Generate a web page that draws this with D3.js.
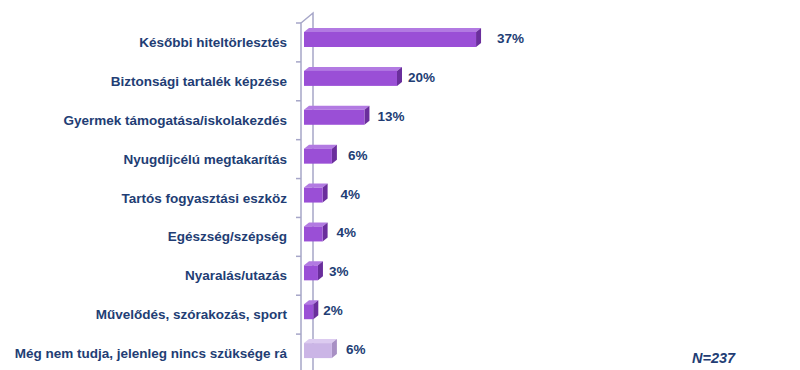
<!DOCTYPE html>
<html>
<head>
<meta charset="utf-8">
<script src="https://cdn.jsdelivr.net/npm/d3@7"></script>
<style>
body { margin: 0; background: #fff; }
text { font-family: "Liberation Sans", Arial, sans-serif; }
</style>
</head>
<body>
<script>
// data
var categories = ["Későbbi hiteltörlesztés", "Biztonsági tartalék képzése", "Gyermek támogatása/iskolakezdés",
  "Nyugdíjcélú megtakarítás", "Tartós fogyasztási eszköz", "Egészség/szépség",
  "Nyaralás/utazás", "Művelődés, szórakozás, sport", "Még nem tudja, jelenleg nincs szüksége rá"];
var values = [37, 20, 13, 6, 4, 4, 3, 2, 6];
var labels = ["37%", "20%", "13%", "6%", "4%", "4%", "3%", "2%", "6%"];
var labelGap = [16, 6, 8, 11, 13, 9, 6, 5, 9];

var width = 800, height = 370;
var textColor = "#223d74";
var dx = 5, dy = 4;

var svg = d3.select("body").append("svg")
  .attr("width", width)
  .attr("height", height);

var y = d3.scaleBand().domain(categories).range([23, 373]).padding(0);
var x = d3.scaleLinear().domain([0, 100]).range([304, 769]);

// back wall + front axis
var axisG = svg.append("g").attr("stroke", "#a6a6c8").attr("stroke-width", 1.5).attr("fill", "none");
axisG.append("path").attr("d", "M301,370 L301,23 L313,13 L313,370");
axisG.selectAll("line.tick").data(d3.range(categories.length + 1))
  .enter().append("line")
  .attr("x1", 296).attr("x2", 301)
  .attr("y1", function(d) { return 23 + d * y.step(); })
  .attr("y2", function(d) { return 23 + d * y.step(); });

var bars = svg.append("g").selectAll("g").data(values).enter().append("g");
function frontCol(i) { return i === values.length - 1 ? "#cbb5e6" : "#9a4fd6"; }
function topCol(i) { return i === values.length - 1 ? "#dccbf0" : "#b27ae2"; }
function sideCol(i) { return i === values.length - 1 ? "#a890c4" : "#6a2e9c"; }

bars.each(function(d, i) {
  var g = d3.select(this);
  var y0 = y(categories[i]) + 9, h = 15;
  var x0 = x(0), x1 = x(d);
  g.append("path")
    .attr("d", "M" + x0 + "," + y0 + " L" + (x0 + dx) + "," + (y0 - dy) + " L" + (x1 + dx) + "," + (y0 - dy) + " L" + x1 + "," + y0 + "Z")
    .attr("fill", topCol(i));
  g.append("path")
    .attr("d", "M" + x1 + "," + y0 + " L" + (x1 + dx) + "," + (y0 - dy) + " L" + (x1 + dx) + "," + (y0 + h - dy) + " L" + x1 + "," + (y0 + h) + "Z")
    .attr("fill", sideCol(i));
  g.append("rect")
    .attr("x", x0).attr("y", y0)
    .attr("width", x1 - x0).attr("height", h)
    .attr("fill", frontCol(i));
  g.append("text")
    .attr("x", x1 + dx + labelGap[i])
    .attr("y", y0 + 11)
    .attr("fill", textColor)
    .attr("font-size", 13.5).attr("font-weight", "bold")
    .text(labels[i]);
});

svg.append("g").selectAll("text").data(categories).enter().append("text")
  .attr("x", 287)
  .attr("y", function(d) { return y(d) + 24; })
  .attr("text-anchor", "end")
  .attr("fill", textColor)
  .attr("font-size", 13.5).attr("font-weight", "bold")
  .text(function(d) { return d; });

svg.append("text")
  .attr("x", 692).attr("y", 363)
  .attr("fill", textColor)
  .attr("font-size", 14.5).attr("font-weight", "bold").attr("font-style", "italic")
  .text("N=237");
</script>
</body>
</html>
